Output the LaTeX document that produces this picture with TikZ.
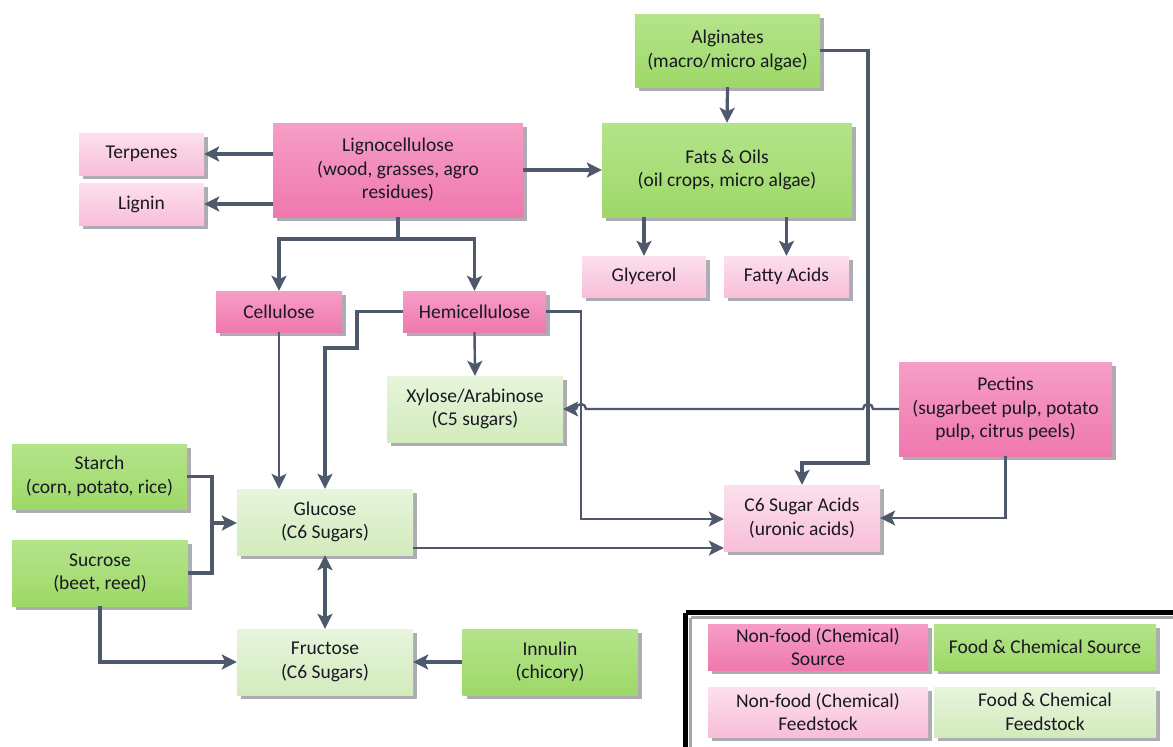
\documentclass[tikz,border=0pt]{standalone}
\usepackage{fontspec}
\setmainfont{Carlito}
\usetikzlibrary{arrows.meta,shadows,calc}
\definecolor{lc}{RGB}{78,89,107}
\definecolor{pkA}{RGB}{246,158,198}
\definecolor{pkB}{RGB}{239,120,174}
\definecolor{lpA}{RGB}{252,224,237}
\definecolor{lpB}{RGB}{248,190,216}
\definecolor{gnA}{RGB}{180,228,138}
\definecolor{gnB}{RGB}{158,216,104}
\definecolor{lgA}{RGB}{231,245,220}
\definecolor{lgB}{RGB}{210,235,188}
\definecolor{shd}{RGB}{172,172,178}
\definecolor{txt}{RGB}{25,25,35}
\tikzset{
  box/.style={draw=none, inner sep=0pt, align=center, text=txt,
    font=\fontsize{19.5}{23.5}\selectfont,
    drop shadow={shadow xshift=4pt, shadow yshift=-4pt, fill=shd, opacity=1}},
  nsrc/.style={box, top color=pkA, bottom color=pkB},
  nfeed/.style={box, top color=lpA, bottom color=lpB},
  fsrc/.style={box, top color=gnA, bottom color=gnB},
  ffeed/.style={box, top color=lgA, bottom color=lgB},
  sz/.style 2 args={minimum width=#1pt, minimum height=#2pt},
  tip/.tip={Stealth[length=15pt,width=15pt,inset=3.5pt]},
  conn/.style={draw=lc, line width=3.2pt, -tip},
  thinconn/.style={draw=lc, line width=2.4pt, -tip},
  plainline/.style={draw=lc, line width=3.2pt},
}
\begin{document}
\begin{tikzpicture}[x=1pt,y=-1pt]
\useasboundingbox (0,0) rectangle (1173,747);
% nodes
\node[fsrc, sz={185}{73}] (alg) at (727.5,50.5) {Alginates\\(macro/micro algae)};
\node[fsrc, sz={250}{94}] (fats) at (727,170) {Fats \& Oils\\(oil crops, micro algae)};
\node[nfeed, sz={124}{41}] (gly) at (644,276.5) {Glycerol};
\node[nfeed, sz={125}{41}] (fatty) at (786.5,276.5) {Fatty Acids};
\node[nsrc, sz={250}{94}] (ligno) at (398,170) {Lignocellulose\\(wood, grasses, agro\\residues)};
\node[nfeed, sz={125}{42}] (terp) at (141.5,154) {Terpenes};
\node[nfeed, sz={125}{42}] (lignin) at (141.5,204) {Lignin};
\node[nsrc, sz={126}{41}] (cell) at (279,311.5) {Cellulose};
\node[nsrc, sz={143}{41}] (hemi) at (474.5,311.5) {Hemicellulose};
\node[ffeed, sz={176}{66}] (xyl) at (475,409) {Xylose/Arabinose\\(C5 sugars)};
\node[nsrc, sz={213}{94}] (pect) at (1005.5,409) {Pectins\\(sugarbeet pulp, potato\\pulp, citrus peels)};
\node[fsrc, sz={175}{65}] (starch) at (99.5,476.5) {Starch\\(corn, potato, rice)};
\node[ffeed, sz={176}{66}] (glu) at (325,522) {Glucose\\(C6 Sugars)};
\node[nfeed, sz={156}{66}] (c6) at (802,518) {C6 Sugar Acids\\(uronic acids)};
\node[fsrc, sz={176}{66}] (sucr) at (100,573) {Sucrose\\(beet, reed)};
\node[ffeed, sz={176}{66}] (fruc) at (325,662) {Fructose\\(C6 Sugars)};
\node[fsrc, sz={175}{66}] (inn) at (550,662) {Innulin\\(chicory)};
% legend
\draw[black, line width=4.5pt] (685.5,612.5) -- (1185,612.5);
\draw[black, line width=4.5pt] (685.5,612.5) -- (685.5,760);
\draw[black!35, line width=2.5pt] (690.5,617.5) -- (1185,617.5);
\draw[black!35, line width=2.5pt] (690.5,617.5) -- (690.5,760);
\node[nsrc, sz={220}{46}] (l1) at (818,647) {Non-food (Chemical)\\Source};
\node[fsrc, sz={222}{46}] (l2) at (1045,647) {Food \& Chemical Source};
\node[nfeed, sz={220}{50}] (l3) at (818,712) {Non-food (Chemical)\\Feedstock};
\node[ffeed, sz={222}{50}] (l4) at (1045,712) {Food \& Chemical\\Feedstock};
% coordinates
\coordinate (lsplit) at (398,239);
\coordinate (hs1) at (357,348);
\coordinate (hx) at (581,519);
\coordinate (ax) at (868,463);
\coordinate (gx) at (413,548);
\coordinate (br) at (212,523);
% connectors
\draw[conn] (terp.east -| ligno.west) -- (terp.east);
\draw[conn] (lignin.east -| ligno.west) -- (lignin.east);
\draw[conn] (ligno.east) -- (fats.west);
\draw[conn] (alg.south) -- (fats.north);
\draw[conn] (gly.north |- fats.south) -- (gly.north);
\draw[conn] (fatty.north |- fats.south) -- (fatty.north);
\draw[plainline] (ligno.south) -- (lsplit);
\draw[conn] (lsplit) -| (cell.north);
\draw[conn] (lsplit) -| (hemi.north);
\draw[thinconn] (cell.south) -- (cell.south |- glu.north);
\draw[conn] (hemi.west) -| (hs1) -| (glu.north);
\draw[thinconn] (hemi.south) -- (xyl.north);
\draw[thinconn] (hemi.east) -| (hx) -- (hx -| c6.west);
\draw[conn] (alg.east) -| (ax) -| (c6.north);
\draw[thinconn] (pect.west) -- (873,409) arc[start angle=0, end angle=180, radius=5pt]
  -- (586,409) arc[start angle=0, end angle=180, radius=5pt] -- (xyl.east);
\draw[thinconn] (pect.south) |- (c6.east);
\draw[thinconn] (gx) -- (gx -| c6.west);
\draw[plainline] (starch.east) -| (br);
\draw[plainline] (sucr.east) -| (br);
\draw[conn] (br) -- (br -| glu.west);
\draw[conn, tip-tip] (glu.south) -- (fruc.north);
\draw[conn] (sucr.south) |- (fruc.west);
\draw[conn] (inn.west) -- (fruc.east);
\end{tikzpicture}
\end{document}
